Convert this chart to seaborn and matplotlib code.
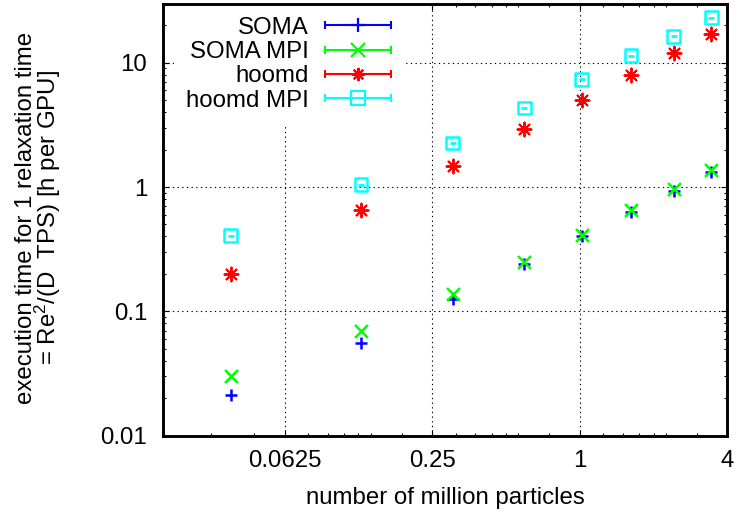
import numpy as np
import pandas as pd
import matplotlib
matplotlib.use("Agg")
import matplotlib.pyplot as plt
import seaborn as sns
from matplotlib.container import ErrorbarContainer
from matplotlib.legend_handler import HandlerErrorbar
from matplotlib.lines import Line2D
from matplotlib.collections import LineCollection
from matplotlib.ticker import FixedLocator, FixedFormatter, NullFormatter

# ---------------- data ----------------
particles = [0.0377, 0.128, 0.303, 0.594, 1.02, 1.62, 2.42, 3.44]
soma = [0.0213, 0.056, 0.125, 0.239, 0.40, 0.634, 0.93, 1.33]
soma_mpi = [0.0301, 0.070, 0.138, 0.249, 0.414, 0.65, 0.96, 1.36]
hoomd = [0.200, 0.655, 1.49, 2.92, 5.0, 7.91, 11.9, 17.2]
hoomd_mpi = [0.407, 1.045, 2.26, 4.32, 7.38, 11.4, 16.3, 23.0]

series_names = ["SOMA", "SOMA MPI", "hoomd", "hoomd MPI"]
series_values = [soma, soma_mpi, hoomd, hoomd_mpi]

x_ticks = [0.0625, 0.25, 1, 4]
x_tick_labels = ["0.0625", "0.25", "1", "4"]
x_minor_ticks = [0.03125, 0.046875,
                 0.078125, 0.09375, 0.109375, 0.125, 0.140625, 0.1875,
                 0.3125, 0.375, 0.4375, 0.5, 0.5625, 0.75,
                 1.25, 1.5, 1.75, 2.0, 2.25, 3.0]
y_ticks = [0.01, 0.1, 1, 10]
y_tick_labels = ["0.01", "0.1", "1", "10"]
y_minor_ticks = [m * 10.0 ** e for e in (-2, -1, 0, 1) for m in range(2, 10)]

x_label = "number of million particles"
y_label_1 = "execution time for 1 relaxation time"
y_label_2 = "= Re$^2$/(D  TPS) [h per GPU]"

# ---------------- style ----------------
sns.set_style("ticks")
plt.rcParams["font.family"] = ["Liberation Sans", "DejaVu Sans"]
plt.rcParams["mathtext.fontset"] = "custom"
plt.rcParams["mathtext.rm"] = "Liberation Sans"
plt.rcParams["mathtext.default"] = "regular"

FS = 17.3
colors = {"SOMA": "#0000ff", "SOMA MPI": "#00ff00", "hoomd": "#ff0000", "hoomd MPI": "#00ffff"}
markers = {"SOMA": "+", "SOMA MPI": "x", "hoomd": (8, 2, 0), "hoomd MPI": "s"}
sizes = {"SOMA": 83, "SOMA MPI": 87, "hoomd": 100, "hoomd MPI": 84}
widths = {"SOMA": 1.8, "SOMA MPI": 1.8, "hoomd": 1.4, "hoomd MPI": 1.8}

W, H = 737, 513
fig = plt.figure(figsize=(W / 100, H / 100), dpi=100)
L, R, T, B = 163.3, 727.3, 3.5, 435.5
ax = fig.add_axes([L / W, 1 - B / H, (R - L) / W, (B - T) / H])
ax.set_xscale("log", base=2)
ax.set_yscale("log")
ax.set_xlim(0.02, 4)
ax.set_ylim(0.01, 30)

for name, vals in zip(series_names, series_values):
    df = pd.DataFrame({"x": particles, "y": vals})
    c = colors[name]
    if name == "hoomd MPI":
        sns.scatterplot(data=df, x="x", y="y", marker="s", s=sizes[name], color=c,
                        facecolor="none", edgecolor=c, linewidth=widths[name], ax=ax,
                        legend=False, zorder=3)
        sns.scatterplot(data=df, x="x", y="y", marker="_", s=16, color=c,
                        linewidth=2.0, ax=ax, legend=False, zorder=3)
    else:
        sns.scatterplot(data=df, x="x", y="y", marker=markers[name], s=sizes[name],
                        color=c, linewidth=widths[name], ax=ax, legend=False, zorder=3)

# ticks
ax.xaxis.set_major_locator(FixedLocator(x_ticks))
ax.xaxis.set_major_formatter(FixedFormatter(x_tick_labels))
ax.xaxis.set_minor_locator(FixedLocator(x_minor_ticks))
ax.xaxis.set_minor_formatter(NullFormatter())
ax.yaxis.set_major_locator(FixedLocator(y_ticks))
ax.yaxis.set_major_formatter(FixedFormatter(y_tick_labels))
ax.yaxis.set_minor_locator(FixedLocator(y_minor_ticks))
ax.yaxis.set_minor_formatter(NullFormatter())
ax.tick_params(which="both", direction="in", top=True, right=True, color="black")
ax.tick_params(which="major", length=4.3, width=0.8, labelsize=FS, labelcolor="black")
ax.tick_params(which="minor", length=2.5, width=0.8)
ax.tick_params(axis="x", which="major", pad=10.7)
ax.tick_params(axis="y", which="major", pad=11.7)
for sp in ax.spines.values():
    sp.set_linewidth(2.1)
    sp.set_color("black")
    sp.set_zorder(5)

ax.grid(True, which="major", color="black", linestyle=(0, (1.2, 3)), linewidth=0.8)
ax.set_axisbelow(True)

ax.set_xlabel(x_label, fontsize=FS, color="black")
ax.xaxis.set_label_coords(0.5, -(487.0 - B) / (B - T))
ax.set_ylabel("")
fig.text(32.5 / W, 1 - 217.5 / H, y_label_1, rotation=90, rotation_mode="anchor",
         ha="center", va="baseline", fontsize=FS, color="black")
fig.text(56.0 / W, 1 - 217.0 / H, y_label_2, rotation=90, rotation_mode="anchor",
         ha="center", va="baseline", fontsize=FS, color="black")

# legend (gnuplot style: label left, errorbar sample right)
handles = []
for name in series_names:
    c = colors[name]
    m = markers[name]
    mfc = "none" if name == "hoomd MPI" else c
    data_line = Line2D([], [], linestyle="none", marker=m, color=c, markersize=9.5,
                       markeredgewidth=1.6, markerfacecolor=mfc, markeredgecolor=c)
    cap = Line2D([], [], linestyle="none", marker="|", color=c, markersize=6,
                 markeredgewidth=1.5)
    bar = LineCollection([], colors=c, linewidths=1.5)
    handles.append(ErrorbarContainer((data_line, (cap, cap), (bar,)),
                                     has_xerr=True, has_yerr=False, label=name))

leg = ax.legend(handles=handles, labels=series_names, loc="upper right",
                bbox_to_anchor=(403.0 / W, 1 - 4.5 / H), bbox_transform=fig.transFigure,
                markerfirst=False, frameon=True, fancybox=False, framealpha=1,
                edgecolor="none", facecolor="white", borderpad=0.5, labelspacing=0.1,
                handlelength=2.74, handletextpad=0.7, borderaxespad=0, numpoints=1,
                fontsize=FS, handler_map={ErrorbarContainer: HandlerErrorbar(xerr_size=1.37)})
leg.set_zorder(4)
for t in leg.get_texts():
    t.set_color("black")

fig.savefig("out.png", dpi=100)
